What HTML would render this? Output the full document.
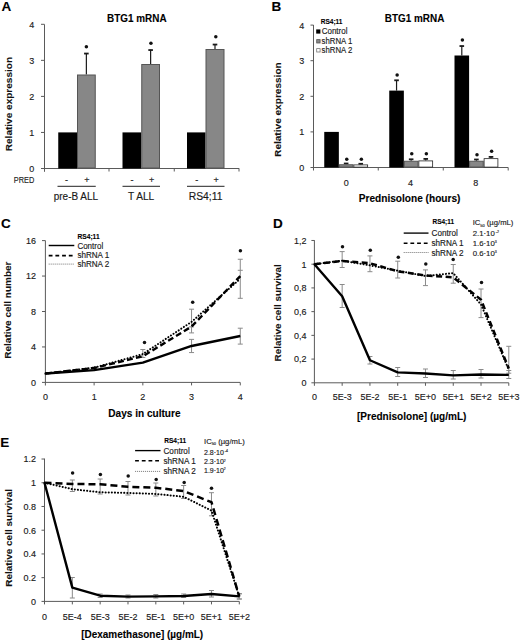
<!DOCTYPE html>
<html><head><meta charset="utf-8"><style>
html,body{margin:0;padding:0;background:#fff;}
body{width:520px;height:642px;overflow:hidden;}
svg{display:block;font-family:"Liberation Sans",sans-serif;}
</style></head><body>
<svg width="520" height="642" viewBox="0 0 520 642">
<rect width="520" height="642" fill="#fff"/>
<text x="1.4" y="10.6" font-size="13.5" font-weight="bold" text-anchor="start" fill="#000" stroke="#000" stroke-width="0.1">A</text>
<text x="136.8" y="21.7" font-size="10" font-weight="bold" text-anchor="middle" textLength="59.5" lengthAdjust="spacingAndGlyphs" fill="#000" stroke="#000" stroke-width="0.1">BTG1 mRNA</text>
<text transform="translate(11.5,104.1) rotate(-90)" font-size="9.6" font-weight="bold" text-anchor="middle" textLength="94.3" lengthAdjust="spacingAndGlyphs" fill="#111" stroke="#111" stroke-width="0.08">Relative expression</text>
<line x1="44.5" y1="24.4" x2="44.5" y2="171.8" stroke="#5a5a5a" stroke-width="1"/>
<line x1="41" y1="168.5" x2="44.5" y2="168.5" stroke="#5a5a5a" stroke-width="1"/>
<text transform="translate(34.3,171.9) scale(0.9375,1)" font-size="9.6" text-anchor="end" fill="#1a1a1a" stroke="#1a1a1a" stroke-width="0.15">0</text>
<line x1="41" y1="132.45" x2="44.5" y2="132.45" stroke="#5a5a5a" stroke-width="1"/>
<text transform="translate(34.3,135.85) scale(0.9375,1)" font-size="9.6" text-anchor="end" fill="#1a1a1a" stroke="#1a1a1a" stroke-width="0.15">1</text>
<line x1="41" y1="96.4" x2="44.5" y2="96.4" stroke="#5a5a5a" stroke-width="1"/>
<text transform="translate(34.3,99.80000000000001) scale(0.9375,1)" font-size="9.6" text-anchor="end" fill="#1a1a1a" stroke="#1a1a1a" stroke-width="0.15">2</text>
<line x1="41" y1="60.35000000000001" x2="44.5" y2="60.35000000000001" stroke="#5a5a5a" stroke-width="1"/>
<text transform="translate(34.3,63.75000000000001) scale(0.9375,1)" font-size="9.6" text-anchor="end" fill="#1a1a1a" stroke="#1a1a1a" stroke-width="0.15">3</text>
<line x1="41" y1="24.30000000000001" x2="44.5" y2="24.30000000000001" stroke="#5a5a5a" stroke-width="1"/>
<text transform="translate(34.3,27.70000000000001) scale(0.9375,1)" font-size="9.6" text-anchor="end" fill="#1a1a1a" stroke="#1a1a1a" stroke-width="0.15">4</text>
<line x1="44.5" y1="168.5" x2="239.2" y2="168.5" stroke="#5a5a5a" stroke-width="1"/>
<line x1="109" y1="168.5" x2="109" y2="171.5" stroke="#5a5a5a" stroke-width="1"/>
<line x1="174.25" y1="168.5" x2="174.25" y2="171.5" stroke="#5a5a5a" stroke-width="1"/>
<line x1="239" y1="168.5" x2="239" y2="171.5" stroke="#5a5a5a" stroke-width="1"/>
<rect x="58.25" y="132.4" width="18.75" height="36.099999999999994" fill="#000"/>
<line x1="86.375" y1="53.25" x2="86.375" y2="74.5" stroke="#1a1a1a" stroke-width="1.2"/>
<line x1="84.075" y1="53.55" x2="88.675" y2="53.55" stroke="#1a1a1a" stroke-width="1.8"/>
<rect x="77.5" y="75.0" width="17.75" height="93.0" fill="#878787" stroke="#555555" stroke-width="1"/>
<circle cx="86.375" cy="46.75" r="1.75" fill="#111"/>
<rect x="122.5" y="132.4" width="18.75" height="36.099999999999994" fill="#000"/>
<line x1="150.625" y1="49.75" x2="150.625" y2="64" stroke="#1a1a1a" stroke-width="1.2"/>
<line x1="148.325" y1="50.05" x2="152.925" y2="50.05" stroke="#1a1a1a" stroke-width="1.8"/>
<rect x="141.75" y="64.5" width="17.75" height="103.5" fill="#878787" stroke="#555555" stroke-width="1"/>
<circle cx="150.925" cy="43.25" r="1.75" fill="#111"/>
<rect x="187" y="132.4" width="18.5" height="36.099999999999994" fill="#000"/>
<line x1="215.0" y1="44.25" x2="215.0" y2="49" stroke="#1a1a1a" stroke-width="1.2"/>
<line x1="212.7" y1="44.55" x2="217.3" y2="44.55" stroke="#1a1a1a" stroke-width="1.8"/>
<rect x="206.0" y="49.5" width="18.0" height="118.5" fill="#878787" stroke="#555555" stroke-width="1"/>
<circle cx="215.8" cy="36.75" r="1.75" fill="#111"/>
<text x="24" y="182.5" font-size="9.8" text-anchor="middle" textLength="20.5" lengthAdjust="spacingAndGlyphs" fill="#1a1a1a" stroke="#1a1a1a" stroke-width="0.15">PRED</text>
<text x="66.5" y="182.5" font-size="9" text-anchor="middle" fill="#1a1a1a" stroke="#1a1a1a" stroke-width="0.15">-</text>
<text x="87" y="182.8" font-size="9" text-anchor="middle" fill="#1a1a1a" stroke="#1a1a1a" stroke-width="0.15">+</text>
<text x="132" y="182.5" font-size="9" text-anchor="middle" fill="#1a1a1a" stroke="#1a1a1a" stroke-width="0.15">-</text>
<text x="151.75" y="182.8" font-size="9" text-anchor="middle" fill="#1a1a1a" stroke="#1a1a1a" stroke-width="0.15">+</text>
<text x="196.75" y="182.5" font-size="9" text-anchor="middle" fill="#1a1a1a" stroke="#1a1a1a" stroke-width="0.15">-</text>
<text x="216.25" y="182.8" font-size="9" text-anchor="middle" fill="#1a1a1a" stroke="#1a1a1a" stroke-width="0.15">+</text>
<line x1="57.5" y1="186.3" x2="95.75" y2="186.3" stroke="#222" stroke-width="1"/>
<line x1="122.5" y1="186.3" x2="160" y2="186.3" stroke="#222" stroke-width="1"/>
<line x1="187" y1="186.3" x2="224.5" y2="186.3" stroke="#222" stroke-width="1"/>
<text x="75.9" y="199.7" font-size="10" text-anchor="middle" textLength="44.3" lengthAdjust="spacingAndGlyphs" fill="#1a1a1a" stroke="#1a1a1a" stroke-width="0.15">pre-B ALL</text>
<text x="141.1" y="199.7" font-size="10" text-anchor="middle" textLength="26.2" lengthAdjust="spacingAndGlyphs" fill="#1a1a1a" stroke="#1a1a1a" stroke-width="0.15">T ALL</text>
<text x="205.6" y="199.7" font-size="10" text-anchor="middle" textLength="33.7" lengthAdjust="spacingAndGlyphs" fill="#1a1a1a" stroke="#1a1a1a" stroke-width="0.15">RS4;11</text>
<text x="271.6" y="10.6" font-size="13.5" font-weight="bold" text-anchor="start" fill="#000" stroke="#000" stroke-width="0.1">B</text>
<text x="414.6" y="21.7" font-size="10" font-weight="bold" text-anchor="middle" textLength="59.5" lengthAdjust="spacingAndGlyphs" fill="#000" stroke="#000" stroke-width="0.1">BTG1 mRNA</text>
<text transform="translate(281.0,109.6) rotate(-90)" font-size="9.6" font-weight="bold" text-anchor="middle" textLength="94.6" lengthAdjust="spacingAndGlyphs" fill="#111" stroke="#111" stroke-width="0.08">Relative expression</text>
<line x1="313.5" y1="25" x2="313.5" y2="170.5" stroke="#5a5a5a" stroke-width="1"/>
<line x1="310.5" y1="167.5" x2="313.5" y2="167.5" stroke="#5a5a5a" stroke-width="1"/>
<text transform="translate(304.2,170.9) scale(0.9375,1)" font-size="9.6" text-anchor="end" fill="#1a1a1a" stroke="#1a1a1a" stroke-width="0.15">0</text>
<line x1="310.5" y1="131.9" x2="313.5" y2="131.9" stroke="#5a5a5a" stroke-width="1"/>
<text transform="translate(304.2,135.3) scale(0.9375,1)" font-size="9.6" text-anchor="end" fill="#1a1a1a" stroke="#1a1a1a" stroke-width="0.15">1</text>
<line x1="310.5" y1="96.3" x2="313.5" y2="96.3" stroke="#5a5a5a" stroke-width="1"/>
<text transform="translate(304.2,99.7) scale(0.9375,1)" font-size="9.6" text-anchor="end" fill="#1a1a1a" stroke="#1a1a1a" stroke-width="0.15">2</text>
<line x1="310.5" y1="60.69999999999999" x2="313.5" y2="60.69999999999999" stroke="#5a5a5a" stroke-width="1"/>
<text transform="translate(304.2,64.1) scale(0.9375,1)" font-size="9.6" text-anchor="end" fill="#1a1a1a" stroke="#1a1a1a" stroke-width="0.15">3</text>
<line x1="310.5" y1="25.099999999999994" x2="313.5" y2="25.099999999999994" stroke="#5a5a5a" stroke-width="1"/>
<text transform="translate(304.2,28.499999999999993) scale(0.9375,1)" font-size="9.6" text-anchor="end" fill="#1a1a1a" stroke="#1a1a1a" stroke-width="0.15">4</text>
<line x1="313.5" y1="167.5" x2="508.2" y2="167.5" stroke="#5a5a5a" stroke-width="1"/>
<line x1="378.25" y1="167.5" x2="378.25" y2="170.5" stroke="#5a5a5a" stroke-width="1"/>
<line x1="443.25" y1="167.5" x2="443.25" y2="170.5" stroke="#5a5a5a" stroke-width="1"/>
<line x1="508.2" y1="167.5" x2="508.2" y2="170.5" stroke="#5a5a5a" stroke-width="1"/>
<rect x="324.25" y="131.9" width="14.6" height="35.599999999999994" fill="#000"/>
<line x1="346.15000000000003" y1="163.2" x2="346.15000000000003" y2="164.25" stroke="#1a1a1a" stroke-width="1.2"/>
<line x1="343.85" y1="163.5" x2="348.45000000000005" y2="163.5" stroke="#1a1a1a" stroke-width="1.8"/>
<rect x="339.35" y="164.75" width="13.6" height="2.25" fill="#878787" stroke="#555555" stroke-width="1"/>
<circle cx="346.75000000000006" cy="159.25" r="1.75" fill="#111"/>
<line x1="360.75" y1="163.5" x2="360.75" y2="164.5" stroke="#1a1a1a" stroke-width="1.2"/>
<line x1="358.45" y1="163.8" x2="363.05" y2="163.8" stroke="#1a1a1a" stroke-width="1.8"/>
<rect x="353.84999999999997" y="164.9" width="13.799999999999999" height="2.2" fill="#fff" stroke="#222" stroke-width="0.8"/>
<circle cx="361.35" cy="159.25" r="1.75" fill="#111"/>
<line x1="396.55" y1="80" x2="396.55" y2="90.6" stroke="#1a1a1a" stroke-width="1.2"/>
<line x1="394.25" y1="80.3" x2="398.85" y2="80.3" stroke="#1a1a1a" stroke-width="1.8"/>
<rect x="389.25" y="90.6" width="14.6" height="76.9" fill="#000"/>
<circle cx="397.15000000000003" cy="75.0" r="1.75" fill="#111"/>
<line x1="411.15000000000003" y1="159.0" x2="411.15000000000003" y2="160.75" stroke="#1a1a1a" stroke-width="1.2"/>
<line x1="408.85" y1="159.3" x2="413.45000000000005" y2="159.3" stroke="#1a1a1a" stroke-width="1.8"/>
<rect x="404.35" y="161.25" width="13.6" height="5.75" fill="#878787" stroke="#555555" stroke-width="1"/>
<circle cx="411.75000000000006" cy="153.75" r="1.75" fill="#111"/>
<line x1="425.75" y1="158.6" x2="425.75" y2="160.5" stroke="#1a1a1a" stroke-width="1.2"/>
<line x1="423.45" y1="158.9" x2="428.05" y2="158.9" stroke="#1a1a1a" stroke-width="1.8"/>
<rect x="418.84999999999997" y="160.9" width="13.799999999999999" height="6.2" fill="#fff" stroke="#222" stroke-width="0.8"/>
<circle cx="426.35" cy="153.75" r="1.75" fill="#111"/>
<line x1="461.8" y1="45.75" x2="461.8" y2="55.5" stroke="#1a1a1a" stroke-width="1.2"/>
<line x1="459.5" y1="46.05" x2="464.1" y2="46.05" stroke="#1a1a1a" stroke-width="1.8"/>
<rect x="454.5" y="55.5" width="14.6" height="112.0" fill="#000"/>
<circle cx="462.40000000000003" cy="40.0" r="1.75" fill="#111"/>
<line x1="476.40000000000003" y1="159.2" x2="476.40000000000003" y2="160.75" stroke="#1a1a1a" stroke-width="1.2"/>
<line x1="474.1" y1="159.5" x2="478.70000000000005" y2="159.5" stroke="#1a1a1a" stroke-width="1.8"/>
<rect x="469.6" y="161.25" width="13.6" height="5.75" fill="#878787" stroke="#555555" stroke-width="1"/>
<circle cx="477.00000000000006" cy="154.75" r="1.75" fill="#111"/>
<line x1="491.0" y1="156.6" x2="491.0" y2="158.25" stroke="#1a1a1a" stroke-width="1.2"/>
<line x1="488.7" y1="156.9" x2="493.3" y2="156.9" stroke="#1a1a1a" stroke-width="1.8"/>
<rect x="484.09999999999997" y="158.65" width="13.799999999999999" height="8.45" fill="#fff" stroke="#222" stroke-width="0.8"/>
<circle cx="491.6" cy="151.25" r="1.75" fill="#111"/>
<text transform="translate(346.25,185.7) scale(0.9375,1)" font-size="9.6" text-anchor="middle" fill="#1a1a1a" stroke="#1a1a1a" stroke-width="0.15">0</text>
<text transform="translate(410.5,185.7) scale(0.9375,1)" font-size="9.6" text-anchor="middle" fill="#1a1a1a" stroke="#1a1a1a" stroke-width="0.15">4</text>
<text transform="translate(475.75,185.7) scale(0.9375,1)" font-size="9.6" text-anchor="middle" fill="#1a1a1a" stroke="#1a1a1a" stroke-width="0.15">8</text>
<text x="409.6" y="202" font-size="10" font-weight="bold" text-anchor="middle" textLength="101.7" lengthAdjust="spacingAndGlyphs" fill="#000" stroke="#000" stroke-width="0.1">Prednisolone (hours)</text>
<text x="320.8" y="23.9" font-size="6.5" font-weight="bold" text-anchor="start" textLength="21.7" lengthAdjust="spacingAndGlyphs" fill="#000" stroke="#000" stroke-width="0.1">RS4;11</text>
<rect x="316.2" y="29.4" width="4.2" height="4.2" fill="#000"/>
<rect x="316.7" y="39.6" width="3.4" height="3.4" fill="#878787" stroke="#555555" stroke-width="0.8"/>
<rect x="316.7" y="48.6" width="3.4" height="3.4" fill="#fff" stroke="#777" stroke-width="0.8"/>
<text x="321.7" y="33.8" font-size="8.5" text-anchor="start" textLength="25.8" lengthAdjust="spacingAndGlyphs" fill="#1a1a1a" stroke="#1a1a1a" stroke-width="0.15">Control</text>
<text x="321.6" y="43.8" font-size="8.5" text-anchor="start" textLength="30.7" lengthAdjust="spacingAndGlyphs" fill="#1a1a1a" stroke="#1a1a1a" stroke-width="0.15">shRNA 1</text>
<text x="321.6" y="53.2" font-size="8.5" text-anchor="start" textLength="30.7" lengthAdjust="spacingAndGlyphs" fill="#1a1a1a" stroke="#1a1a1a" stroke-width="0.15">shRNA 2</text>
<text x="1.0" y="228.3" font-size="13.5" font-weight="bold" text-anchor="start" fill="#000" stroke="#000" stroke-width="0.1">C</text>
<text transform="translate(11.3,310.1) rotate(-90)" font-size="9.6" font-weight="bold" text-anchor="middle" textLength="97.2" lengthAdjust="spacingAndGlyphs" fill="#111" stroke="#111" stroke-width="0.08">Relative cell number</text>
<line x1="45.4" y1="240.6" x2="45.4" y2="385.5" stroke="#5a5a5a" stroke-width="1"/>
<line x1="42" y1="382.4" x2="45.4" y2="382.4" stroke="#5a5a5a" stroke-width="1"/>
<text transform="translate(36,385.79999999999995) scale(0.9375,1)" font-size="9.6" text-anchor="end" fill="#1a1a1a" stroke="#1a1a1a" stroke-width="0.15">0</text>
<line x1="42" y1="346.95" x2="45.4" y2="346.95" stroke="#5a5a5a" stroke-width="1"/>
<text transform="translate(36,350.34999999999997) scale(0.9375,1)" font-size="9.6" text-anchor="end" fill="#1a1a1a" stroke="#1a1a1a" stroke-width="0.15">4</text>
<line x1="42" y1="311.5" x2="45.4" y2="311.5" stroke="#5a5a5a" stroke-width="1"/>
<text transform="translate(36,314.9) scale(0.9375,1)" font-size="9.6" text-anchor="end" fill="#1a1a1a" stroke="#1a1a1a" stroke-width="0.15">8</text>
<line x1="42" y1="276.04999999999995" x2="45.4" y2="276.04999999999995" stroke="#5a5a5a" stroke-width="1"/>
<text transform="translate(36,279.44999999999993) scale(0.9375,1)" font-size="9.6" text-anchor="end" fill="#1a1a1a" stroke="#1a1a1a" stroke-width="0.15">12</text>
<line x1="42" y1="240.6" x2="45.4" y2="240.6" stroke="#5a5a5a" stroke-width="1"/>
<text transform="translate(36,244.0) scale(0.9375,1)" font-size="9.6" text-anchor="end" fill="#1a1a1a" stroke="#1a1a1a" stroke-width="0.15">16</text>
<line x1="45.4" y1="382.4" x2="240.2" y2="382.4" stroke="#5a5a5a" stroke-width="1"/>
<line x1="94.12" y1="382.4" x2="94.12" y2="385.4" stroke="#5a5a5a" stroke-width="1"/>
<line x1="142.84" y1="382.4" x2="142.84" y2="385.4" stroke="#5a5a5a" stroke-width="1"/>
<line x1="191.56" y1="382.4" x2="191.56" y2="385.4" stroke="#5a5a5a" stroke-width="1"/>
<line x1="240.28" y1="382.4" x2="240.28" y2="385.4" stroke="#5a5a5a" stroke-width="1"/>
<text transform="translate(45.4,399.8) scale(0.9375,1)" font-size="9.6" text-anchor="middle" fill="#1a1a1a" stroke="#1a1a1a" stroke-width="0.15">0</text>
<text transform="translate(94.12,399.8) scale(0.9375,1)" font-size="9.6" text-anchor="middle" fill="#1a1a1a" stroke="#1a1a1a" stroke-width="0.15">1</text>
<text transform="translate(142.84,399.8) scale(0.9375,1)" font-size="9.6" text-anchor="middle" fill="#1a1a1a" stroke="#1a1a1a" stroke-width="0.15">2</text>
<text transform="translate(191.56,399.8) scale(0.9375,1)" font-size="9.6" text-anchor="middle" fill="#1a1a1a" stroke="#1a1a1a" stroke-width="0.15">3</text>
<text transform="translate(240.28,399.8) scale(0.9375,1)" font-size="9.6" text-anchor="middle" fill="#1a1a1a" stroke="#1a1a1a" stroke-width="0.15">4</text>
<text x="144.4" y="416.5" font-size="10" font-weight="bold" text-anchor="middle" textLength="72.2" lengthAdjust="spacingAndGlyphs" fill="#000" stroke="#000" stroke-width="0.1">Days in culture</text>
<line x1="191.56" y1="352.575125" x2="191.56" y2="339.37512499999997" stroke="#8a8a8a" stroke-width="1"/>
<line x1="189.06" y1="352.575125" x2="194.06" y2="352.575125" stroke="#8a8a8a" stroke-width="1"/>
<line x1="189.06" y1="339.37512499999997" x2="194.06" y2="339.37512499999997" stroke="#8a8a8a" stroke-width="1"/>
<line x1="240.28" y1="328.2" x2="240.28" y2="344.1" stroke="#8a8a8a" stroke-width="1"/>
<line x1="237.78" y1="328.2" x2="242.78" y2="328.2" stroke="#8a8a8a" stroke-width="1"/>
<line x1="237.78" y1="344.1" x2="242.78" y2="344.1" stroke="#8a8a8a" stroke-width="1"/>
<line x1="191.56" y1="309.2" x2="191.56" y2="332.9" stroke="#8a8a8a" stroke-width="1"/>
<line x1="189.06" y1="309.2" x2="194.06" y2="309.2" stroke="#8a8a8a" stroke-width="1"/>
<line x1="189.06" y1="332.9" x2="194.06" y2="332.9" stroke="#8a8a8a" stroke-width="1"/>
<line x1="189.06" y1="326.9" x2="194.06" y2="326.9" stroke="#8a8a8a" stroke-width="1"/>
<line x1="240.28" y1="259.25" x2="240.28" y2="298.3" stroke="#8a8a8a" stroke-width="1"/>
<line x1="237.78" y1="259.25" x2="242.78" y2="259.25" stroke="#8a8a8a" stroke-width="1"/>
<line x1="237.78" y1="298.3" x2="242.78" y2="298.3" stroke="#8a8a8a" stroke-width="1"/>
<line x1="237.78" y1="270.3" x2="242.78" y2="270.3" stroke="#8a8a8a" stroke-width="1"/>
<line x1="142.84" y1="349.5" x2="142.84" y2="357.5" stroke="#8a8a8a" stroke-width="1"/>
<line x1="140.34" y1="349.5" x2="145.34" y2="349.5" stroke="#8a8a8a" stroke-width="1"/>
<line x1="140.34" y1="357.5" x2="145.34" y2="357.5" stroke="#8a8a8a" stroke-width="1"/>
<line x1="94.12" y1="367.0" x2="94.12" y2="370.5" stroke="#8a8a8a" stroke-width="1"/>
<line x1="92.12" y1="367.0" x2="96.12" y2="367.0" stroke="#8a8a8a" stroke-width="1"/>
<line x1="92.12" y1="370.5" x2="96.12" y2="370.5" stroke="#8a8a8a" stroke-width="1"/>
<polyline points="45.40,373.54 94.12,370.08 142.84,362.64 191.56,345.98 240.28,336.05" fill="none" stroke="#000" stroke-width="2.4" stroke-linecap="butt" stroke-linejoin="round"/>
<polyline points="45.40,373.54 94.12,368.04 142.84,356.26 191.56,326.57 240.28,276.05" fill="none" stroke="#000" stroke-width="2.4" stroke-dasharray="6,3.2" stroke-linecap="butt" stroke-linejoin="round"/>
<polyline points="45.40,373.54 94.12,367.69 142.84,354.04 191.56,321.87 240.28,278.71" fill="none" stroke="#000" stroke-width="2.0" stroke-dasharray="0.1,3" stroke-linecap="round" stroke-linejoin="round"/>
<circle cx="144.5" cy="342.5" r="1.75" fill="#111"/>
<circle cx="192.7" cy="302.2" r="1.75" fill="#111"/>
<circle cx="240.4" cy="250.7" r="1.75" fill="#111"/>
<text x="77.6" y="238.8" font-size="6.5" font-weight="bold" text-anchor="start" textLength="22" lengthAdjust="spacingAndGlyphs" fill="#000" stroke="#000" stroke-width="0.1">RS4;11</text>
<line x1="48.7" y1="245.5" x2="74.3" y2="245.5" stroke="#000" stroke-width="1.45"/>
<line x1="48.7" y1="255.6" x2="74.3" y2="255.6" stroke="#000" stroke-width="1.6" stroke-dasharray="3.8,2.9"/>
<line x1="48.7" y1="264.1" x2="74.3" y2="264.1" stroke="#666" stroke-width="0.9" stroke-dasharray="1,1"/>
<text x="77.4" y="248.5" font-size="8.5" text-anchor="start" textLength="25.8" lengthAdjust="spacingAndGlyphs" fill="#1a1a1a" stroke="#1a1a1a" stroke-width="0.15">Control</text>
<text x="77.4" y="257.9" font-size="8.5" text-anchor="start" textLength="31.9" lengthAdjust="spacingAndGlyphs" fill="#1a1a1a" stroke="#1a1a1a" stroke-width="0.15">shRNA 1</text>
<text x="77.4" y="267.1" font-size="8.5" text-anchor="start" textLength="31.9" lengthAdjust="spacingAndGlyphs" fill="#1a1a1a" stroke="#1a1a1a" stroke-width="0.15">shRNA 2</text>
<text x="273.0" y="228.4" font-size="13.5" font-weight="bold" text-anchor="start" fill="#000" stroke="#000" stroke-width="0.1">D</text>
<text transform="translate(281.3,312.8) rotate(-90)" font-size="9.6" font-weight="bold" text-anchor="middle" textLength="97.2" lengthAdjust="spacingAndGlyphs" fill="#111" stroke="#111" stroke-width="0.08">Relative cell survival</text>
<line x1="314.4" y1="240.2" x2="314.4" y2="385.8" stroke="#5a5a5a" stroke-width="1"/>
<line x1="311.4" y1="382.8" x2="314.4" y2="382.8" stroke="#5a5a5a" stroke-width="1"/>
<text transform="translate(306.4,386.2) scale(0.9375,1)" font-size="9.6" text-anchor="end" fill="#1a1a1a" stroke="#1a1a1a" stroke-width="0.15">0</text>
<line x1="311.4" y1="359.08000000000004" x2="314.4" y2="359.08000000000004" stroke="#5a5a5a" stroke-width="1"/>
<text transform="translate(306.4,362.48) scale(0.9375,1)" font-size="9.6" text-anchor="end" fill="#1a1a1a" stroke="#1a1a1a" stroke-width="0.15">0,2</text>
<line x1="311.4" y1="335.36" x2="314.4" y2="335.36" stroke="#5a5a5a" stroke-width="1"/>
<text transform="translate(306.4,338.76) scale(0.9375,1)" font-size="9.6" text-anchor="end" fill="#1a1a1a" stroke="#1a1a1a" stroke-width="0.15">0,4</text>
<line x1="311.4" y1="311.64" x2="314.4" y2="311.64" stroke="#5a5a5a" stroke-width="1"/>
<text transform="translate(306.4,315.03999999999996) scale(0.9375,1)" font-size="9.6" text-anchor="end" fill="#1a1a1a" stroke="#1a1a1a" stroke-width="0.15">0,6</text>
<line x1="311.4" y1="287.92" x2="314.4" y2="287.92" stroke="#5a5a5a" stroke-width="1"/>
<text transform="translate(306.4,291.32) scale(0.9375,1)" font-size="9.6" text-anchor="end" fill="#1a1a1a" stroke="#1a1a1a" stroke-width="0.15">0,8</text>
<line x1="311.4" y1="264.20000000000005" x2="314.4" y2="264.20000000000005" stroke="#5a5a5a" stroke-width="1"/>
<text transform="translate(306.4,267.6) scale(0.9375,1)" font-size="9.6" text-anchor="end" fill="#1a1a1a" stroke="#1a1a1a" stroke-width="0.15">1</text>
<line x1="311.4" y1="240.48" x2="314.4" y2="240.48" stroke="#5a5a5a" stroke-width="1"/>
<text transform="translate(306.4,243.88) scale(0.9375,1)" font-size="9.6" text-anchor="end" fill="#1a1a1a" stroke="#1a1a1a" stroke-width="0.15">1,2</text>
<line x1="314.4" y1="382.8" x2="508.78999999999996" y2="382.8" stroke="#5a5a5a" stroke-width="1"/>
<line x1="342.16999999999996" y1="382.8" x2="342.16999999999996" y2="385.8" stroke="#5a5a5a" stroke-width="1"/>
<line x1="369.94" y1="382.8" x2="369.94" y2="385.8" stroke="#5a5a5a" stroke-width="1"/>
<line x1="397.71" y1="382.8" x2="397.71" y2="385.8" stroke="#5a5a5a" stroke-width="1"/>
<line x1="425.47999999999996" y1="382.8" x2="425.47999999999996" y2="385.8" stroke="#5a5a5a" stroke-width="1"/>
<line x1="453.25" y1="382.8" x2="453.25" y2="385.8" stroke="#5a5a5a" stroke-width="1"/>
<line x1="481.02" y1="382.8" x2="481.02" y2="385.8" stroke="#5a5a5a" stroke-width="1"/>
<line x1="508.78999999999996" y1="382.8" x2="508.78999999999996" y2="385.8" stroke="#5a5a5a" stroke-width="1"/>
<text transform="translate(314.4,400.1) scale(0.9375,1)" font-size="9.6" text-anchor="middle" fill="#1a1a1a" stroke="#1a1a1a" stroke-width="0.15">0</text>
<text transform="translate(342.16999999999996,400.1) scale(0.9375,1)" font-size="9.6" text-anchor="middle" fill="#1a1a1a" stroke="#1a1a1a" stroke-width="0.15">5E-3</text>
<text transform="translate(369.94,400.1) scale(0.9375,1)" font-size="9.6" text-anchor="middle" fill="#1a1a1a" stroke="#1a1a1a" stroke-width="0.15">5E-2</text>
<text transform="translate(397.71,400.1) scale(0.9375,1)" font-size="9.6" text-anchor="middle" fill="#1a1a1a" stroke="#1a1a1a" stroke-width="0.15">5E-1</text>
<text transform="translate(425.47999999999996,400.1) scale(0.9375,1)" font-size="9.6" text-anchor="middle" fill="#1a1a1a" stroke="#1a1a1a" stroke-width="0.15">5E+0</text>
<text transform="translate(453.25,400.1) scale(0.9375,1)" font-size="9.6" text-anchor="middle" fill="#1a1a1a" stroke="#1a1a1a" stroke-width="0.15">5E+1</text>
<text transform="translate(481.02,400.1) scale(0.9375,1)" font-size="9.6" text-anchor="middle" fill="#1a1a1a" stroke="#1a1a1a" stroke-width="0.15">5E+2</text>
<text transform="translate(508.78999999999996,400.1) scale(0.9375,1)" font-size="9.6" text-anchor="middle" fill="#1a1a1a" stroke="#1a1a1a" stroke-width="0.15">5E+3</text>
<text x="411.7" y="420.2" font-size="10" font-weight="bold" text-anchor="middle" textLength="109.5" lengthAdjust="spacingAndGlyphs" fill="#000" stroke="#000" stroke-width="0.1">[Prednisolone] (µg/mL)</text>
<line x1="342.16999999999996" y1="284.5" x2="342.16999999999996" y2="307.5" stroke="#8a8a8a" stroke-width="1"/>
<line x1="339.66999999999996" y1="284.5" x2="344.66999999999996" y2="284.5" stroke="#8a8a8a" stroke-width="1"/>
<line x1="339.66999999999996" y1="307.5" x2="344.66999999999996" y2="307.5" stroke="#8a8a8a" stroke-width="1"/>
<line x1="369.94" y1="356.5" x2="369.94" y2="364" stroke="#8a8a8a" stroke-width="1"/>
<line x1="367.44" y1="356.5" x2="372.44" y2="356.5" stroke="#8a8a8a" stroke-width="1"/>
<line x1="367.44" y1="364" x2="372.44" y2="364" stroke="#8a8a8a" stroke-width="1"/>
<line x1="397.71" y1="367.5" x2="397.71" y2="376.5" stroke="#8a8a8a" stroke-width="1"/>
<line x1="395.21" y1="367.5" x2="400.21" y2="367.5" stroke="#8a8a8a" stroke-width="1"/>
<line x1="395.21" y1="376.5" x2="400.21" y2="376.5" stroke="#8a8a8a" stroke-width="1"/>
<line x1="425.47999999999996" y1="369" x2="425.47999999999996" y2="377.5" stroke="#8a8a8a" stroke-width="1"/>
<line x1="422.97999999999996" y1="369" x2="427.97999999999996" y2="369" stroke="#8a8a8a" stroke-width="1"/>
<line x1="422.97999999999996" y1="377.5" x2="427.97999999999996" y2="377.5" stroke="#8a8a8a" stroke-width="1"/>
<line x1="453.25" y1="370.5" x2="453.25" y2="379" stroke="#8a8a8a" stroke-width="1"/>
<line x1="450.75" y1="370.5" x2="455.75" y2="370.5" stroke="#8a8a8a" stroke-width="1"/>
<line x1="450.75" y1="379" x2="455.75" y2="379" stroke="#8a8a8a" stroke-width="1"/>
<line x1="481.02" y1="369.5" x2="481.02" y2="378" stroke="#8a8a8a" stroke-width="1"/>
<line x1="478.52" y1="369.5" x2="483.52" y2="369.5" stroke="#8a8a8a" stroke-width="1"/>
<line x1="478.52" y1="378" x2="483.52" y2="378" stroke="#8a8a8a" stroke-width="1"/>
<line x1="508.78999999999996" y1="370.5" x2="508.78999999999996" y2="378.5" stroke="#8a8a8a" stroke-width="1"/>
<line x1="506.28999999999996" y1="370.5" x2="511.28999999999996" y2="370.5" stroke="#8a8a8a" stroke-width="1"/>
<line x1="506.28999999999996" y1="378.5" x2="511.28999999999996" y2="378.5" stroke="#8a8a8a" stroke-width="1"/>
<line x1="342.16999999999996" y1="251.6" x2="342.16999999999996" y2="267.5" stroke="#8a8a8a" stroke-width="1"/>
<line x1="339.66999999999996" y1="251.6" x2="344.66999999999996" y2="251.6" stroke="#8a8a8a" stroke-width="1"/>
<line x1="339.66999999999996" y1="267.5" x2="344.66999999999996" y2="267.5" stroke="#8a8a8a" stroke-width="1"/>
<line x1="369.94" y1="255.9" x2="369.94" y2="271.7" stroke="#8a8a8a" stroke-width="1"/>
<line x1="367.44" y1="255.9" x2="372.44" y2="255.9" stroke="#8a8a8a" stroke-width="1"/>
<line x1="367.44" y1="271.7" x2="372.44" y2="271.7" stroke="#8a8a8a" stroke-width="1"/>
<line x1="397.71" y1="261.2" x2="397.71" y2="278" stroke="#8a8a8a" stroke-width="1"/>
<line x1="395.21" y1="261.2" x2="400.21" y2="261.2" stroke="#8a8a8a" stroke-width="1"/>
<line x1="395.21" y1="278" x2="400.21" y2="278" stroke="#8a8a8a" stroke-width="1"/>
<line x1="425.47999999999996" y1="269.9" x2="425.47999999999996" y2="285.6" stroke="#8a8a8a" stroke-width="1"/>
<line x1="422.97999999999996" y1="269.9" x2="427.97999999999996" y2="269.9" stroke="#8a8a8a" stroke-width="1"/>
<line x1="422.97999999999996" y1="285.6" x2="427.97999999999996" y2="285.6" stroke="#8a8a8a" stroke-width="1"/>
<line x1="453.25" y1="264.5" x2="453.25" y2="283.2" stroke="#8a8a8a" stroke-width="1"/>
<line x1="450.75" y1="264.5" x2="455.75" y2="264.5" stroke="#8a8a8a" stroke-width="1"/>
<line x1="450.75" y1="283.2" x2="455.75" y2="283.2" stroke="#8a8a8a" stroke-width="1"/>
<line x1="481.02" y1="289" x2="481.02" y2="317.6" stroke="#8a8a8a" stroke-width="1"/>
<line x1="478.52" y1="289" x2="483.52" y2="289" stroke="#8a8a8a" stroke-width="1"/>
<line x1="478.52" y1="317.6" x2="483.52" y2="317.6" stroke="#8a8a8a" stroke-width="1"/>
<line x1="508.78999999999996" y1="346.3" x2="508.78999999999996" y2="373.2" stroke="#8a8a8a" stroke-width="1"/>
<line x1="506.28999999999996" y1="346.3" x2="511.28999999999996" y2="346.3" stroke="#8a8a8a" stroke-width="1"/>
<line x1="506.28999999999996" y1="373.2" x2="511.28999999999996" y2="373.2" stroke="#8a8a8a" stroke-width="1"/>
<polyline points="314.40,264.20 342.17,296.22 369.94,360.27 397.71,372.36 425.48,373.55 453.25,375.33 481.02,374.50 508.79,374.85" fill="none" stroke="#000" stroke-width="2.4" stroke-linecap="butt" stroke-linejoin="round"/>
<polyline points="314.40,264.20 342.17,261.00 369.94,263.25 397.71,271.32 425.48,275.47 453.25,277.25 481.02,299.78 508.79,368.57" fill="none" stroke="#000" stroke-width="2.5" stroke-dasharray="6,3.5" stroke-linecap="butt" stroke-linejoin="round"/>
<polyline points="314.40,264.20 342.17,260.64 369.94,265.39 397.71,270.72 425.48,276.06 453.25,273.10 481.02,304.52 508.79,369.75" fill="none" stroke="#000" stroke-width="2.0" stroke-dasharray="0.1,3" stroke-linecap="round" stroke-linejoin="round"/>
<circle cx="342.5" cy="246.8" r="1.75" fill="#111"/>
<circle cx="370.3" cy="250.2" r="1.75" fill="#111"/>
<circle cx="398.3" cy="257.3" r="1.75" fill="#111"/>
<circle cx="425.8" cy="263.9" r="1.75" fill="#111"/>
<circle cx="453.2" cy="259.6" r="1.75" fill="#111"/>
<circle cx="481.5" cy="282.5" r="1.75" fill="#111"/>
<text x="432.5" y="224.4" font-size="6.5" font-weight="bold" text-anchor="start" textLength="21.5" lengthAdjust="spacingAndGlyphs" fill="#000" stroke="#000" stroke-width="0.1">RS4;11</text>
<text x="472.7" y="225" font-size="7.8" text-anchor="start" textLength="40.6" lengthAdjust="spacingAndGlyphs" fill="#222" stroke="#222" stroke-width="0.15">IC<tspan font-size="4" dy="1.8">50</tspan><tspan dy="-1.8"> (µg/mL)</tspan></text>
<line x1="403.7" y1="233.1" x2="428.5" y2="233.1" stroke="#000" stroke-width="1.35"/>
<line x1="403.7" y1="243.2" x2="428.5" y2="243.2" stroke="#000" stroke-width="1.6" stroke-dasharray="3.8,2.9"/>
<line x1="403.7" y1="252.5" x2="428.5" y2="252.5" stroke="#666" stroke-width="0.9" stroke-dasharray="1,1"/>
<text x="431.6" y="235.9" font-size="8.5" text-anchor="start" textLength="26.3" lengthAdjust="spacingAndGlyphs" fill="#1a1a1a" stroke="#1a1a1a" stroke-width="0.15">Control</text>
<text x="431.4" y="245.8" font-size="8.5" text-anchor="start" textLength="32.2" lengthAdjust="spacingAndGlyphs" fill="#1a1a1a" stroke="#1a1a1a" stroke-width="0.15">shRNA 1</text>
<text x="431.4" y="255.5" font-size="8.5" text-anchor="start" textLength="32.2" lengthAdjust="spacingAndGlyphs" fill="#1a1a1a" stroke="#1a1a1a" stroke-width="0.15">shRNA 2</text>
<text x="472.7" y="235.9" font-size="7.8" text-anchor="start" fill="#222" stroke="#222" stroke-width="0.15">2.1·10<tspan font-size="3.6" dy="-3"> -2</tspan></text>
<text x="472.7" y="245.6" font-size="7.8" text-anchor="start" fill="#222" stroke="#222" stroke-width="0.15">1.6·10<tspan font-size="3.6" dy="-3">3</tspan></text>
<text x="472.7" y="255.7" font-size="7.8" text-anchor="start" fill="#222" stroke="#222" stroke-width="0.15">0.6·10<tspan font-size="3.6" dy="-3">3</tspan></text>
<text x="0.2" y="446.6" font-size="13.5" font-weight="bold" text-anchor="start" fill="#000" stroke="#000" stroke-width="0.1">E</text>
<text transform="translate(11.6,537.9) rotate(-90)" font-size="9.6" font-weight="bold" text-anchor="middle" textLength="97.8" lengthAdjust="spacingAndGlyphs" fill="#111" stroke="#111" stroke-width="0.08">Relative cell survival</text>
<line x1="44.5" y1="458.6" x2="44.5" y2="604.4" stroke="#5a5a5a" stroke-width="1"/>
<line x1="41.5" y1="601.4" x2="44.5" y2="601.4" stroke="#5a5a5a" stroke-width="1"/>
<text transform="translate(35.9,604.8) scale(0.9375,1)" font-size="9.6" text-anchor="end" fill="#1a1a1a" stroke="#1a1a1a" stroke-width="0.15">0</text>
<line x1="41.5" y1="577.67" x2="44.5" y2="577.67" stroke="#5a5a5a" stroke-width="1"/>
<text transform="translate(35.9,581.0699999999999) scale(0.9375,1)" font-size="9.6" text-anchor="end" fill="#1a1a1a" stroke="#1a1a1a" stroke-width="0.15">0.2</text>
<line x1="41.5" y1="553.9399999999999" x2="44.5" y2="553.9399999999999" stroke="#5a5a5a" stroke-width="1"/>
<text transform="translate(35.9,557.3399999999999) scale(0.9375,1)" font-size="9.6" text-anchor="end" fill="#1a1a1a" stroke="#1a1a1a" stroke-width="0.15">0.4</text>
<line x1="41.5" y1="530.2099999999999" x2="44.5" y2="530.2099999999999" stroke="#5a5a5a" stroke-width="1"/>
<text transform="translate(35.9,533.6099999999999) scale(0.9375,1)" font-size="9.6" text-anchor="end" fill="#1a1a1a" stroke="#1a1a1a" stroke-width="0.15">0.6</text>
<line x1="41.5" y1="506.47999999999996" x2="44.5" y2="506.47999999999996" stroke="#5a5a5a" stroke-width="1"/>
<text transform="translate(35.9,509.87999999999994) scale(0.9375,1)" font-size="9.6" text-anchor="end" fill="#1a1a1a" stroke="#1a1a1a" stroke-width="0.15">0.8</text>
<line x1="41.5" y1="482.75" x2="44.5" y2="482.75" stroke="#5a5a5a" stroke-width="1"/>
<text transform="translate(35.9,486.15) scale(0.9375,1)" font-size="9.6" text-anchor="end" fill="#1a1a1a" stroke="#1a1a1a" stroke-width="0.15">1</text>
<line x1="41.5" y1="459.02" x2="44.5" y2="459.02" stroke="#5a5a5a" stroke-width="1"/>
<text transform="translate(35.9,462.41999999999996) scale(0.9375,1)" font-size="9.6" text-anchor="end" fill="#1a1a1a" stroke="#1a1a1a" stroke-width="0.15">1.2</text>
<line x1="44.5" y1="601.4" x2="239.31" y2="601.4" stroke="#5a5a5a" stroke-width="1"/>
<line x1="72.33" y1="601.4" x2="72.33" y2="604.4" stroke="#5a5a5a" stroke-width="1"/>
<line x1="100.16" y1="601.4" x2="100.16" y2="604.4" stroke="#5a5a5a" stroke-width="1"/>
<line x1="127.99" y1="601.4" x2="127.99" y2="604.4" stroke="#5a5a5a" stroke-width="1"/>
<line x1="155.82" y1="601.4" x2="155.82" y2="604.4" stroke="#5a5a5a" stroke-width="1"/>
<line x1="183.64999999999998" y1="601.4" x2="183.64999999999998" y2="604.4" stroke="#5a5a5a" stroke-width="1"/>
<line x1="211.48" y1="601.4" x2="211.48" y2="604.4" stroke="#5a5a5a" stroke-width="1"/>
<line x1="239.31" y1="601.4" x2="239.31" y2="604.4" stroke="#5a5a5a" stroke-width="1"/>
<text transform="translate(44.5,619.8) scale(0.9375,1)" font-size="9.6" text-anchor="middle" fill="#1a1a1a" stroke="#1a1a1a" stroke-width="0.15">0</text>
<text transform="translate(72.33,619.8) scale(0.9375,1)" font-size="9.6" text-anchor="middle" fill="#1a1a1a" stroke="#1a1a1a" stroke-width="0.15">5E-4</text>
<text transform="translate(100.16,619.8) scale(0.9375,1)" font-size="9.6" text-anchor="middle" fill="#1a1a1a" stroke="#1a1a1a" stroke-width="0.15">5E-3</text>
<text transform="translate(127.99,619.8) scale(0.9375,1)" font-size="9.6" text-anchor="middle" fill="#1a1a1a" stroke="#1a1a1a" stroke-width="0.15">5E-2</text>
<text transform="translate(155.82,619.8) scale(0.9375,1)" font-size="9.6" text-anchor="middle" fill="#1a1a1a" stroke="#1a1a1a" stroke-width="0.15">5E-1</text>
<text transform="translate(183.64999999999998,619.8) scale(0.9375,1)" font-size="9.6" text-anchor="middle" fill="#1a1a1a" stroke="#1a1a1a" stroke-width="0.15">5E+0</text>
<text transform="translate(211.48,619.8) scale(0.9375,1)" font-size="9.6" text-anchor="middle" fill="#1a1a1a" stroke="#1a1a1a" stroke-width="0.15">5E+1</text>
<text transform="translate(239.31,619.8) scale(0.9375,1)" font-size="9.6" text-anchor="middle" fill="#1a1a1a" stroke="#1a1a1a" stroke-width="0.15">5E+2</text>
<text x="142.2" y="638" font-size="10" font-weight="bold" text-anchor="middle" textLength="122" lengthAdjust="spacingAndGlyphs" fill="#000" stroke="#000" stroke-width="0.1">[Dexamethasone] (µg/mL)</text>
<line x1="72.33" y1="577.5" x2="72.33" y2="598" stroke="#8a8a8a" stroke-width="1"/>
<line x1="69.83" y1="577.5" x2="74.83" y2="577.5" stroke="#8a8a8a" stroke-width="1"/>
<line x1="69.83" y1="598" x2="74.83" y2="598" stroke="#8a8a8a" stroke-width="1"/>
<line x1="100.16" y1="594" x2="100.16" y2="597.5" stroke="#8a8a8a" stroke-width="1"/>
<line x1="97.66" y1="594" x2="102.66" y2="594" stroke="#8a8a8a" stroke-width="1"/>
<line x1="97.66" y1="597.5" x2="102.66" y2="597.5" stroke="#8a8a8a" stroke-width="1"/>
<line x1="127.99" y1="595" x2="127.99" y2="598" stroke="#8a8a8a" stroke-width="1"/>
<line x1="125.49" y1="595" x2="130.49" y2="595" stroke="#8a8a8a" stroke-width="1"/>
<line x1="125.49" y1="598" x2="130.49" y2="598" stroke="#8a8a8a" stroke-width="1"/>
<line x1="155.82" y1="594.5" x2="155.82" y2="598" stroke="#8a8a8a" stroke-width="1"/>
<line x1="153.32" y1="594.5" x2="158.32" y2="594.5" stroke="#8a8a8a" stroke-width="1"/>
<line x1="153.32" y1="598" x2="158.32" y2="598" stroke="#8a8a8a" stroke-width="1"/>
<line x1="183.64999999999998" y1="594" x2="183.64999999999998" y2="597.5" stroke="#8a8a8a" stroke-width="1"/>
<line x1="181.14999999999998" y1="594" x2="186.14999999999998" y2="594" stroke="#8a8a8a" stroke-width="1"/>
<line x1="181.14999999999998" y1="597.5" x2="186.14999999999998" y2="597.5" stroke="#8a8a8a" stroke-width="1"/>
<line x1="211.48" y1="590.5" x2="211.48" y2="597" stroke="#8a8a8a" stroke-width="1"/>
<line x1="208.98" y1="590.5" x2="213.98" y2="590.5" stroke="#8a8a8a" stroke-width="1"/>
<line x1="208.98" y1="597" x2="213.98" y2="597" stroke="#8a8a8a" stroke-width="1"/>
<line x1="239.31" y1="593.5" x2="239.31" y2="599" stroke="#8a8a8a" stroke-width="1"/>
<line x1="236.81" y1="593.5" x2="241.81" y2="593.5" stroke="#8a8a8a" stroke-width="1"/>
<line x1="236.81" y1="599" x2="241.81" y2="599" stroke="#8a8a8a" stroke-width="1"/>
<line x1="72.33" y1="480" x2="72.33" y2="491.5" stroke="#8a8a8a" stroke-width="1"/>
<line x1="69.83" y1="480" x2="74.83" y2="480" stroke="#8a8a8a" stroke-width="1"/>
<line x1="69.83" y1="491.5" x2="74.83" y2="491.5" stroke="#8a8a8a" stroke-width="1"/>
<line x1="100.16" y1="479" x2="100.16" y2="494" stroke="#8a8a8a" stroke-width="1"/>
<line x1="97.66" y1="479" x2="102.66" y2="479" stroke="#8a8a8a" stroke-width="1"/>
<line x1="97.66" y1="494" x2="102.66" y2="494" stroke="#8a8a8a" stroke-width="1"/>
<line x1="127.99" y1="481.5" x2="127.99" y2="495" stroke="#8a8a8a" stroke-width="1"/>
<line x1="125.49" y1="481.5" x2="130.49" y2="481.5" stroke="#8a8a8a" stroke-width="1"/>
<line x1="125.49" y1="495" x2="130.49" y2="495" stroke="#8a8a8a" stroke-width="1"/>
<line x1="155.82" y1="483" x2="155.82" y2="496" stroke="#8a8a8a" stroke-width="1"/>
<line x1="153.32" y1="483" x2="158.32" y2="483" stroke="#8a8a8a" stroke-width="1"/>
<line x1="153.32" y1="496" x2="158.32" y2="496" stroke="#8a8a8a" stroke-width="1"/>
<line x1="183.64999999999998" y1="485.5" x2="183.64999999999998" y2="498.5" stroke="#8a8a8a" stroke-width="1"/>
<line x1="181.14999999999998" y1="485.5" x2="186.14999999999998" y2="485.5" stroke="#8a8a8a" stroke-width="1"/>
<line x1="181.14999999999998" y1="498.5" x2="186.14999999999998" y2="498.5" stroke="#8a8a8a" stroke-width="1"/>
<line x1="211.48" y1="492.7" x2="211.48" y2="515.8" stroke="#8a8a8a" stroke-width="1"/>
<line x1="208.98" y1="492.7" x2="213.98" y2="492.7" stroke="#8a8a8a" stroke-width="1"/>
<line x1="208.98" y1="515.8" x2="213.98" y2="515.8" stroke="#8a8a8a" stroke-width="1"/>
<line x1="239.31" y1="594" x2="239.31" y2="599" stroke="#8a8a8a" stroke-width="1"/>
<line x1="236.81" y1="594" x2="241.81" y2="594" stroke="#8a8a8a" stroke-width="1"/>
<line x1="236.81" y1="599" x2="241.81" y2="599" stroke="#8a8a8a" stroke-width="1"/>
<polyline points="44.50,482.75 72.33,587.64 100.16,595.70 127.99,596.65 155.82,596.42 183.65,596.06 211.48,593.93 239.31,596.42" fill="none" stroke="#000" stroke-width="2.4" stroke-linecap="butt" stroke-linejoin="round"/>
<polyline points="44.50,482.75 72.33,483.94 100.16,484.29 127.99,486.78 155.82,487.73 183.65,491.06 211.48,502.21 239.31,596.65" fill="none" stroke="#000" stroke-width="2.5" stroke-dasharray="7,4" stroke-linecap="butt" stroke-linejoin="round"/>
<polyline points="44.50,482.75 72.33,489.16 100.16,492.24 127.99,492.95 155.82,493.90 183.65,496.75 211.48,510.63 239.31,596.65" fill="none" stroke="#000" stroke-width="2.0" stroke-dasharray="0.1,3" stroke-linecap="round" stroke-linejoin="round"/>
<circle cx="72.6" cy="473.1" r="1.75" fill="#111"/>
<circle cx="100.4" cy="474.4" r="1.75" fill="#111"/>
<circle cx="128.2" cy="476" r="1.75" fill="#111"/>
<circle cx="156.2" cy="479.6" r="1.75" fill="#111"/>
<circle cx="184.2" cy="482.5" r="1.75" fill="#111"/>
<circle cx="211.5" cy="488.3" r="1.75" fill="#111"/>
<text x="164.2" y="443.2" font-size="6.5" font-weight="bold" text-anchor="start" textLength="21.9" lengthAdjust="spacingAndGlyphs" fill="#000" stroke="#000" stroke-width="0.1">RS4;11</text>
<text x="204" y="443.6" font-size="7.8" text-anchor="start" textLength="40.7" lengthAdjust="spacingAndGlyphs" fill="#222" stroke="#222" stroke-width="0.15">IC<tspan font-size="4" dy="1.8">50</tspan><tspan dy="-1.8"> (µg/mL)</tspan></text>
<line x1="135.1" y1="450.6" x2="160.5" y2="450.6" stroke="#000" stroke-width="1.35"/>
<line x1="135.1" y1="460.8" x2="160.5" y2="460.8" stroke="#000" stroke-width="1.6" stroke-dasharray="3.8,2.9"/>
<line x1="135.1" y1="471.4" x2="160.5" y2="471.4" stroke="#666" stroke-width="0.9" stroke-dasharray="1,1"/>
<text x="163.5" y="453.5" font-size="8.5" text-anchor="start" textLength="26.2" lengthAdjust="spacingAndGlyphs" fill="#1a1a1a" stroke="#1a1a1a" stroke-width="0.15">Control</text>
<text x="163.5" y="463.7" font-size="8.5" text-anchor="start" textLength="32.2" lengthAdjust="spacingAndGlyphs" fill="#1a1a1a" stroke="#1a1a1a" stroke-width="0.15">shRNA 1</text>
<text x="163.5" y="473.8" font-size="8.5" text-anchor="start" textLength="32.2" lengthAdjust="spacingAndGlyphs" fill="#1a1a1a" stroke="#1a1a1a" stroke-width="0.15">shRNA 2</text>
<text x="204" y="455.1" font-size="7" text-anchor="start" fill="#222" stroke="#222" stroke-width="0.15">2.8·10<tspan font-size="3.4" dy="-2.8"> -4</tspan></text>
<text x="204" y="464.3" font-size="7" text-anchor="start" fill="#222" stroke="#222" stroke-width="0.15">2.3·10<tspan font-size="3.4" dy="-2.8">2</tspan></text>
<text x="204" y="472.9" font-size="7" text-anchor="start" fill="#222" stroke="#222" stroke-width="0.15">1.9·10<tspan font-size="3.4" dy="-2.8">2</tspan></text>
</svg>
</body></html>
